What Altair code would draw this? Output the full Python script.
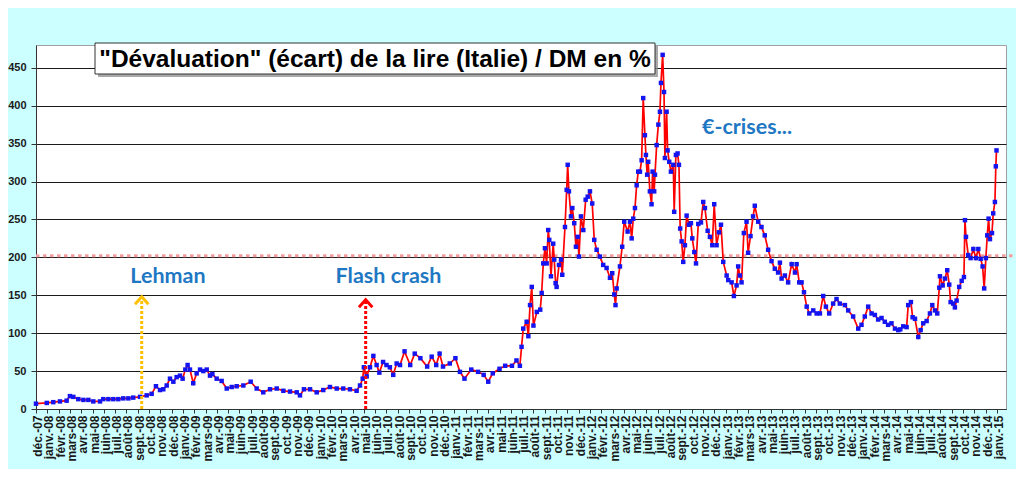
import json
import altair as alt
import pandas as pd

# ---- data: t = months since 1 Dec 2007 (0 = déc.-07 ... 85 = janv.-15), v = écart en %
t_a = [0.0, 0.95, 1.53, 2.12, 2.71, 3.0, 3.3, 3.74, 4.19, 4.63, 5.07, 5.66, 5.95, 6.4, 6.84,
       7.28, 7.72, 8.17, 8.6, 9.2, 9.79, 10.23, 10.61, 10.97, 11.26, 11.56, 11.85, 12.15,
       12.44, 12.74, 12.97, 13.21, 13.41, 13.62, 13.91, 14.21, 14.51, 14.8, 15.1, 15.39,
       15.6, 15.98, 16.42, 16.87, 17.31, 17.75, 18.34, 18.99, 19.52, 20.1, 20.7, 21.29,
       21.88, 22.47, 23.06, 23.35, 23.7, 24.24, 24.83, 25.41, 26.0, 26.6, 27.18, 27.77,
       28.36, 28.66, 28.9]
v_a = [7, 8, 9, 10, 11, 17, 16, 13, 12, 12, 10, 10, 13, 13, 13,
       13, 14, 14, 15, 16, 18, 20, 30, 25, 26, 31, 40, 36,
       42, 44, 40, 52, 58, 52, 34, 47, 52, 50, 52, 44,
       46, 40, 37, 27, 29, 30, 31, 36, 27, 22, 26, 27,
       24, 23, 22, 18, 26, 26, 22, 25, 29, 27, 27, 26,
       24, 31, 40]

t_b = [29.0, 29.25, 29.54, 29.84, 30.13, 30.37, 30.7, 31.0, 31.3, 31.6, 31.9, 32.2, 32.6,
       33.1, 33.5, 34.0, 34.6, 35.0, 35.4, 35.7, 36.0, 36.6, 37.1, 37.5, 37.9, 38.5, 39.1,
       39.6, 40.0, 40.4, 41.0, 41.5, 42.1, 42.5, 42.8, 42.95, 43.1, 43.4, 43.55, 43.7,
       43.85, 44.0, 44.3, 44.6, 44.73]
v_b = [55, 43, 55, 70, 58, 48, 62, 58, 55, 45, 60, 58, 76,
       58, 73, 67, 56, 69, 58, 73, 56, 60, 67, 49, 40, 52, 49,
       45, 36, 47, 53, 57, 57, 64, 57, 82, 106, 115, 96, 137,
       161, 110, 128, 131, 153]

t_c = [44.87, 45.02, 45.17, 45.31, 45.4, 45.55, 45.75, 45.84, 45.96, 46.05, 46.26, 46.44,
       46.55, 46.79, 46.94, 47.03, 47.14, 47.32, 47.44, 47.61, 47.76, 47.91, 48.03, 48.2,
       48.41, 48.62, 48.8, 49.0, 49.2, 49.38, 49.59, 49.88, 50.17, 50.47, 50.77, 50.97,
       51.15, 51.26, 51.36, 51.65, 51.85, 52.03]
v_c = [192, 212, 192, 236, 223, 175, 218, 197, 166, 161, 190, 197,
       177, 240, 289, 322, 287, 254, 265, 245, 214, 227, 201, 254,
       236, 276, 280, 287, 271, 223, 210, 201, 190, 186, 173, 179,
       151, 137, 159, 188, 214, 247]

t_d = [52.33, 52.54, 52.69, 52.83, 52.98, 53.13, 53.27, 53.42, 53.57, 53.71, 53.86, 53.95,
       54.06, 54.15, 54.3, 54.45, 54.54, 54.68, 54.75, 54.9, 55.05, 55.19, 55.28, 55.43,
       55.55, 55.63, 55.78, 55.87, 56.01, 56.16, 56.37, 56.45, 56.6, 56.75, 56.87, 56.98,
       57.11, 57.25, 57.4, 57.55, 57.76, 57.93, 58.05, 58.23, 58.38, 58.58, 58.82, 59.02,
       59.17, 59.41, 59.61, 59.82, 59.99, 60.2, 60.41, 60.59, 60.79]
v_d = [234, 247, 225, 251, 265, 295, 313, 313, 328, 410, 361, 335,
       309, 326, 287, 270, 313, 287, 309, 348, 375, 392, 430, 467,
       418, 331, 392, 341, 326, 313, 322, 260, 335, 337, 322, 238,
       221, 194, 216, 255, 243, 245, 225, 207, 192, 244, 246, 273,
       265, 235, 227, 216, 270, 216, 233, 243, 194]

t_e = [61.09, 61.23, 61.53, 61.73, 61.97, 62.11, 62.26, 62.41, 62.61, 62.85, 62.99, 63.2,
       63.43, 63.58, 63.88, 64.17, 64.46, 64.76, 65.06, 65.35, 65.64, 65.8, 65.95, 66.24,
       66.53, 66.84, 67.13, 67.28, 67.51, 67.72, 67.93, 68.17, 68.4, 68.75, 69.05, 69.34,
       69.63, 69.87, 70.16, 70.51, 70.81, 71.1, 71.55, 71.84, 72.28, 72.73, 73.02, 73.31,
       73.61, 73.91, 74.2, 74.49, 74.79, 75.08, 75.37, 75.67, 75.98, 76.27]
v_e = [176, 170, 167, 149, 163, 188, 176, 167, 232, 247, 206, 228,
       254, 268, 247, 240, 229, 210, 195, 185, 180, 193, 172, 176,
       167, 191, 180, 191, 167, 167, 154, 135, 126, 130, 126, 126,
       149, 135, 126, 139, 145, 139, 137, 130, 122, 106, 111, 122,
       135, 126, 124, 118, 120, 115, 111, 113, 106, 104]

t_f = [76.45, 76.71, 77.01, 77.15, 77.39, 77.54, 77.75, 78.04, 78.25, 78.48, 78.78, 79.07,
       79.28, 79.52, 79.72, 79.9, 79.96, 80.2, 80.4, 80.6, 80.78, 80.9, 81.13, 81.28,
       81.43, 81.66, 81.88, 82.08, 82.17, 82.26, 82.46, 82.67, 82.91, 83.14, 83.35, 83.56,
       83.73, 83.87, 84.02, 84.14, 84.26, 84.38, 84.56, 84.67, 84.82, 84.9, 84.96]
v_f = [105, 109, 108, 137, 141, 121, 119, 95, 104, 113, 116, 126,
       137, 130, 126, 160, 175, 163, 172, 183, 164, 141, 139, 134,
       143, 161, 169, 174, 249, 227, 203, 199, 211, 199, 211, 198,
       188, 159, 199, 229, 251, 224, 232, 258, 273, 320, 341]

mois = ["janv.", "févr.", "mars", "avr.", "mai", "juin", "juil.", "août",
        "sept.", "oct.", "nov.", "déc."]
tick_labels = ["déc.-07"] + [f"{m}-{y:02d}" for y in range(8, 15) for m in mois] + ["janv.-15"]

y_ticks = [0, 50, 100, 150, 200, 250, 300, 350, 400, 450]

title_text = "\"Dévaluation\" (écart) de la lire (Italie) / DM en %"
seuil = 202  # ligne pointillée rose

events_t = [9.35, 29.16]
events_top = [148, 144]
events_color = ["#FFC000", "#FF0000"]

notes_label = ["Lehman", "Flash crash", "€-crises..."]
notes_t = [11.67, 31.18, 62.89]
notes_v = [174, 174, 370]

# ---- frames
t_all = t_a + t_b + t_c + t_d + t_e + t_f
v_all = v_a + v_b + v_c + v_d + v_e + v_f
df = pd.DataFrame({"t": t_all, "v": v_all})
df_ev = pd.DataFrame({"t": events_t, "top": events_top, "base": [0, 0], "c": events_color})
df_notes = pd.DataFrame({"t": notes_t, "v": notes_v, "label": notes_label})
one = pd.DataFrame({"k": [0]})

W, H = 970, 364

xscale = alt.Scale(domain=[0, 85.8], nice=False, zero=False)
yscale = alt.Scale(domain=[0, 480], nice=False)

label_expr = json.dumps(tick_labels, ensure_ascii=False) + "[round(datum.value)]"

xaxis = alt.Axis(values=list(range(86)), labelExpr=label_expr, labelAngle=-90,
                 labelFont="Liberation Sans", labelFontWeight="bold", labelFontSize=12,
                 labelColor="#1a1a1a", labelOverlap=False, labelPadding=2, labelOffset=1.5,
                 tickSize=4, tickColor="#333333", domainColor="#333333", grid=False,
                 title=None, labelBound=False, labelFlush=False)
yaxis = alt.Axis(values=y_ticks, labelFont="Liberation Sans", labelFontWeight="bold",
                 labelFontSize=11, labelColor="#1a1a1a", tickSize=5, tickColor="#333333",
                 domainColor="#333333", grid=True, gridColor="#1a1a1a", gridWidth=1,
                 labelPadding=5, title=None, labelOverlap=False)

X = lambda f: alt.X(f, scale=xscale, axis=xaxis)
Y = lambda f: alt.Y(f, scale=yscale, axis=yaxis)

base = alt.Chart(df)

seuil_rule = alt.Chart(pd.DataFrame({"y": [seuil]})).mark_rule(
    color="#F39E9E", strokeWidth=3, strokeDash=[3.5, 3.5], opacity=1
).encode(y=Y("y:Q"), x=alt.value(0), x2=alt.value(W + 10))

line = base.mark_line(color="#FF0000", strokeWidth=1.7).encode(x=X("t:Q"), y=Y("v:Q"))
points = base.mark_point(shape="square", filled=True, size=20, color="#1414F0", opacity=1).encode(
    x=X("t:Q"), y=Y("v:Q"))

ev_rule = alt.Chart(df_ev).mark_rule(strokeWidth=3, strokeDash=[3, 2]).encode(
    x=X("t:Q"), y=Y("base:Q"), y2="top:Q", color=alt.Color("c:N", scale=None))
ev_head = alt.Chart(df_ev).mark_point(
    shape="M-1,1.1L0,0L1,1.1", filled=False, strokeWidth=3, size=180, opacity=1
).encode(x=X("t:Q"), y=Y("top:Q"), color=alt.Color("c:N", scale=None))

notes = alt.Chart(df_notes).mark_text(
    font="Lato", fontWeight="bold", fontSize=21.5, color="#1F78C3", baseline="middle"
).encode(x=X("t:Q"), y=Y("v:Q"), text="label:N")

shadow = alt.Chart(one).mark_rect(color="#8c8c8c", opacity=0.75).encode(
    x=alt.value(62), x2=alt.value(622), y=alt.value(1), y2=alt.value(32))
box = alt.Chart(one).mark_rect(fill="white", stroke="#333333", strokeWidth=1).encode(
    x=alt.value(59), x2=alt.value(619), y=alt.value(-2), y2=alt.value(29))
title = alt.Chart(one).mark_text(
    font="Liberation Sans", fontWeight="bold", fontSize=24.5, color="#000000",
    align="center", baseline="alphabetic"
).encode(x=alt.value(339), y=alt.value(21.5), text=alt.value(title_text))

chart = alt.layer(
    seuil_rule, line, points, ev_rule, ev_head, notes, shadow, box, title
).properties(
    width=W, height=H,
    autosize=alt.AutoSizeParams(type="none"),
    padding={"left": 28, "top": 37, "right": 10, "bottom": 60},
    background="#CCFFFF",
).configure_view(stroke="#A0A0A0", strokeWidth=1, fill="white"
).configure_axis(labelOverlap=False)

chart.save("out.html", embed_options={"renderer": "svg", "actions": False})
